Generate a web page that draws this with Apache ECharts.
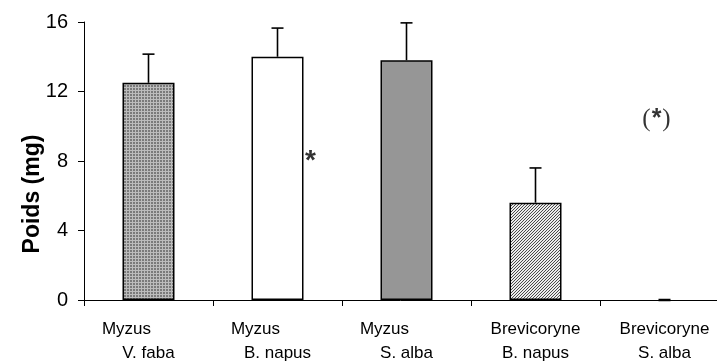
<!DOCTYPE html>
<html>
<head>
<meta charset="utf-8">
<script src="https://cdn.jsdelivr.net/npm/echarts@6/dist/echarts.min.js"></script>
<style>
  html, body { margin: 0; padding: 0; background: #fff; }
  #chart { width: 717px; height: 362px; }
</style>
</head>
<body>
<div id="chart"></div>
<script>
// Aphid species and host plant for each group
const species = ['Myzus', 'Myzus', 'Myzus', 'Brevicoryne', 'Brevicoryne'];
const hosts = ['V. faba', 'B. napus', 'S. alba', 'B. napus', 'S. alba'];
// Mean weight (mg) and upper standard error
const weights = [12.5, 14.0, 13.8, 5.6, 0];
const errors = [1.65, 1.65, 2.15, 2.0, 0];
// Significance marks: category index, height (mg), text
const markCats = [1, 4];
const markValues = [8.2, 10.4];
const markTexts = ['*', '(*)'];
const yTicks = [0, 4, 8, 12, 16];

const FONT = "'Liberation Sans', Arial, sans-serif";
const SERIF = "'Liberation Serif', 'Times New Roman', serif";

function makePattern(size, draw) {
  const c = document.createElement('canvas');
  c.width = size; c.height = size;
  const ctx = c.getContext('2d');
  draw(ctx);
  return { image: c, repeat: 'repeat' };
}

// fine screen of dark dots on a lighter grid
const stipple = makePattern(3, ctx => {
  ctx.fillStyle = '#bcbcbc'; ctx.fillRect(0, 0, 3, 3);
  ctx.fillStyle = '#7a7a7a'; ctx.fillRect(1, 1, 2, 2);
});
// diagonal hatching, rising to the right
const hatch = makePattern(3, ctx => {
  ctx.fillStyle = '#ececec'; ctx.fillRect(0, 0, 3, 3);
  ctx.fillStyle = '#4a4a4a';
  for (let i = 0; i < 3; i++) ctx.fillRect(2 - i, i, 1, 1);
});
const fills = [stipple, '#ffffff', '#969696', hatch, '#969696'];

const chart = echarts.init(document.getElementById('chart'), null, { renderer: 'canvas' });

chart.setOption({
  backgroundColor: '#ffffff',
  animation: false,
  grid: { left: 84, top: 22, right: -12, bottom: 62, containLabel: false, outerBoundsMode: 'none' },
  xAxis: {
    type: 'category',
    data: species.map((s, i) => s + '|' + hosts[i]),
    boundaryGap: true,
    axisLine: { lineStyle: { color: '#000', width: 1 } },
    axisTick: { show: true, interval: 0, length: 6, lineStyle: { color: '#000' } },
    axisLabel: {
      interval: 0,
      margin: 17,
      color: '#000',
      fontFamily: FONT,
      fontSize: 17,
      lineHeight: 24,
      formatter: v => {
        const [s, h] = v.split('|');
        return (s === 'Myzus' ? '{m|' + s + '}' : '{b|' + s + '}') + '\n{b|' + h + '}';
      },
      rich: {
        m: { fontFamily: FONT, fontSize: 17, lineHeight: 24, color: '#000', padding: [0, 44, 0, 0] },
        b: { fontFamily: FONT, fontSize: 17, lineHeight: 24, color: '#000' }
      }
    }
  },
  yAxis: {
    type: 'value',
    min: yTicks[0],
    max: yTicks[yTicks.length - 1],
    interval: 4,
    name: 'Poids (mg)',
    nameLocation: 'middle',
    nameGap: 40,
    nameRotate: 90,
    nameMoveOverlap: false,
    nameTextStyle: {
      fontFamily: FONT, fontSize: 23, fontWeight: 'bold', color: '#000',
      padding: [0, 66, 0, 0]
    },
    axisLine: { show: true, lineStyle: { color: '#000', width: 1 } },
    axisTick: { show: true, length: 6, lineStyle: { color: '#000' } },
    splitLine: { show: false },
    axisLabel: { color: '#000', fontFamily: FONT, fontSize: 20, margin: 16 }
  },
  series: [
    {
      type: 'bar',
      barWidth: 52,
      data: weights.map((v, i) => ({
        value: v,
        itemStyle: { color: fills[i], borderColor: v > 0 ? '#000' : 'transparent', borderWidth: 1.5 }
      })),
      z: 2
    },
    {
      type: 'custom',
      data: weights.map((v, i) => [i, v, errors[i]]),
      renderItem: (params, api) => {
        const i = api.value(0);
        const base = api.coord([i, api.value(1)]);
        const top = api.coord([i, api.value(1) + api.value(2)]);
        const capW = api.value(2) > 0 ? 1.6 : 2.5;
        return {
          type: 'group',
          children: [
            { type: 'line', shape: { x1: base[0], y1: base[1], x2: top[0], y2: top[1] }, style: { stroke: '#000', lineWidth: 1.6 } },
            { type: 'line', shape: { x1: top[0] - 6, y1: top[1], x2: top[0] + 6, y2: top[1] }, style: { stroke: '#000', lineWidth: capW } }
          ]
        };
      },
      z: 3
    },
    {
      type: 'scatter',
      symbolSize: 0,
      itemStyle: { color: '#000' },
      data: markCats.map((c, i) => ({
        value: [c, markValues[i]],
        label: i === 0
          ? { color: '#000', fontFamily: FONT, fontSize: 28, fontWeight: 'bold', offset: [33, 4] }
          : { color: '#000', fontFamily: SERIF, fontSize: 25, offset: [-8, 0] }
      })),
      label: {
        show: true,
        position: 'inside',
        color: '#000',
        // the bracketed mark gets a heavier asterisk
        formatter: p => p.dataIndex === 0
          ? markTexts[0]
          : markTexts[p.dataIndex].replace('*', '{s|*}'),
        rich: {
          s: { fontFamily: FONT, fontSize: 25, fontWeight: 'bold', color: '#000', padding: [0, 1, 0, 1] }
        }
      },
      z: 4
    }
  ]
});
</script>
</body>
</html>
